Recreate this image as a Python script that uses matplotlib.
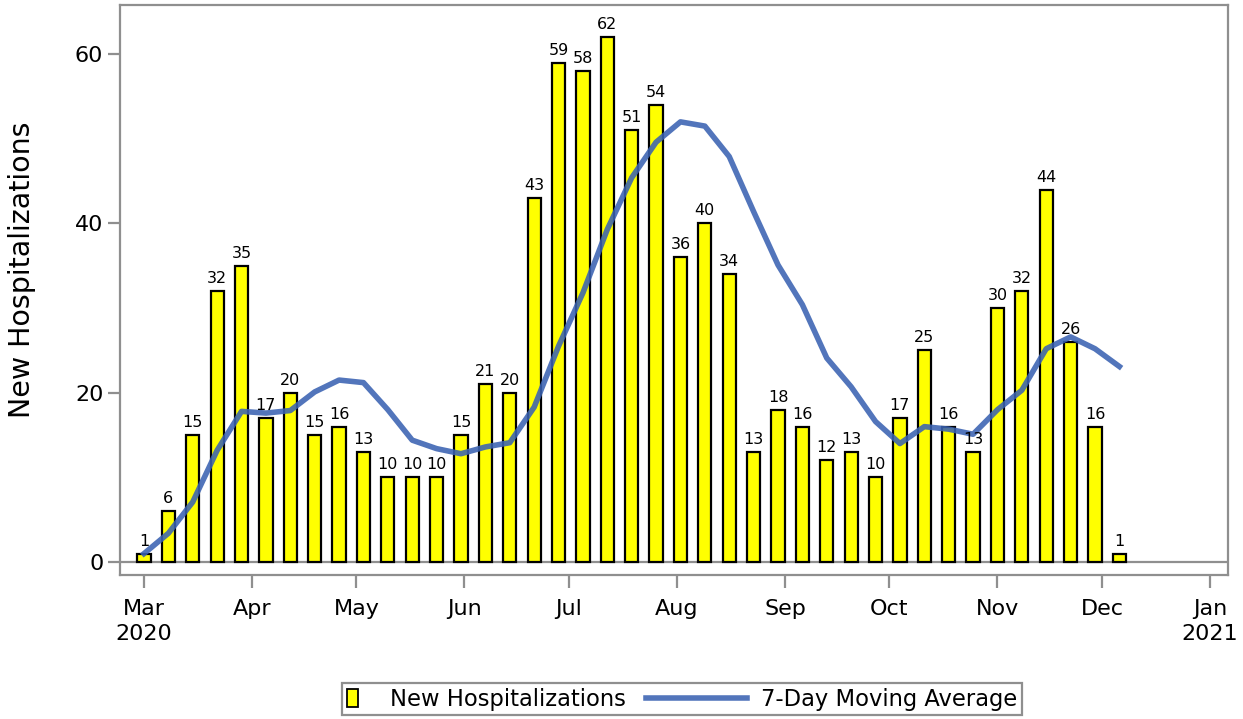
import matplotlib.pyplot as plt
import pandas as pd
from matplotlib.patches import Rectangle
from matplotlib.lines import Line2D

# Weekly new hospitalizations (week starting Sunday)
week_start = pd.date_range("2020-03-01", periods=41, freq="7D")
new_hosp = [1, 6, 15, 32, 35, 17, 20, 15, 16, 13, 10, 10, 10, 15, 21, 20, 43,
            59, 58, 62, 51, 54, 36, 40, 34, 13, 18, 16, 12, 13, 10, 17, 25, 16,
            13, 30, 32, 44, 26, 16, 1]
# 7-day moving average at each week
moving_avg = [1.0, 3.4, 7.1, 13.2, 17.8, 17.6, 17.9, 20.1, 21.5, 21.2, 18.0,
              14.4, 13.4, 12.8, 13.6, 14.1, 18.3, 25.5, 31.8, 39.3, 45.4, 49.6,
              52.0, 51.5, 47.9, 41.4, 35.1, 30.4, 24.1, 20.7, 16.6, 14.0, 16.0,
              15.7, 15.1, 18.0, 20.3, 25.2, 26.6, 25.2, 23.1]

month_ticks = pd.date_range("2020-03-01", "2021-01-01", freq="MS")
month_labels = ["Mar\n2020", "Apr", "May", "Jun", "Jul", "Aug", "Sep", "Oct",
                "Nov", "Dec", "Jan\n2021"]

frame_gray = "#8f8f8f"
bar_yellow = "#ffff00"
line_blue = "#3a62b2"

fig = plt.figure(figsize=(12.43, 7.19), dpi=100)
ax = fig.add_axes([0.0965, 0.2, 0.8915, 0.793])

bars = ax.bar(week_start, new_hosp, width=3.8, color=bar_yellow,
              edgecolor="black", linewidth=1.6, zorder=2)
for d, v in zip(week_start, new_hosp):
    ax.text(d, v + 0.6, str(v), ha="center", va="bottom", fontsize=11.5,
            zorder=4)

ma_line, = ax.plot(week_start, moving_avg, color=line_blue, linewidth=4,
                   alpha=0.88, zorder=3, solid_joinstyle="round")

ax.axhline(0, color=frame_gray, linewidth=1.6, zorder=1)

ax.set_ylim(-1.55, 65.8)
ax.set_xlim(pd.Timestamp("2020-03-01") - pd.Timedelta(days=6.9),
            pd.Timestamp("2021-01-01") + pd.Timedelta(days=5.2))
ax.set_yticks([0, 20, 40, 60])
ax.set_xticks(month_ticks)
ax.set_xticklabels(month_labels, linespacing=1.35)
ax.tick_params(axis="both", colors=frame_gray, labelcolor="black",
               labelsize=16, width=1.6, length=9)
ax.tick_params(axis="x", pad=8)
ax.tick_params(axis="y", pad=3)

for s in ax.spines.values():
    s.set_color(frame_gray)
    s.set_linewidth(1.6)

ax.set_ylabel("New Hospitalizations", fontsize=20.5)
ax.yaxis.set_label_coords(-0.076, 0.535)


# legend handles: narrow bar swatch and a long line
class BarSwatch:
    def legend_artist(self, legend, orig_handle, fontsize, handlebox):
        h = handlebox.height
        r = Rectangle((-handlebox.xdescent, -handlebox.ydescent + h / 2 - 6.5),
                      8.6, 13, facecolor=bar_yellow, edgecolor="black",
                      linewidth=1.3)
        handlebox.add_artist(r)
        return r


class LongLine:
    def legend_artist(self, legend, orig_handle, fontsize, handlebox):
        y = -handlebox.ydescent + handlebox.height / 2
        x0 = -handlebox.xdescent
        ln = Line2D([x0 - 52, x0 + 21], [y, y], color=line_blue, linewidth=4,
                    alpha=0.88)
        handlebox.add_artist(ln)
        return ln


leg = fig.legend(handles=[bars, ma_line],
                 labels=["New Hospitalizations", "7-Day Moving Average"],
                 handler_map={bars: BarSwatch(), ma_line: LongLine()},
                 loc="center", bbox_to_anchor=(0.5487, 0.0278), ncol=2,
                 fontsize=16.3, frameon=True, fancybox=False,
                 edgecolor=frame_gray, framealpha=1, handlelength=0.9,
                 borderpad=0.2, columnspacing=4.1, handletextpad=1.0,
                 borderaxespad=0)
leg.get_frame().set_linewidth(1.6)

fig.savefig("out.png", dpi=100)
